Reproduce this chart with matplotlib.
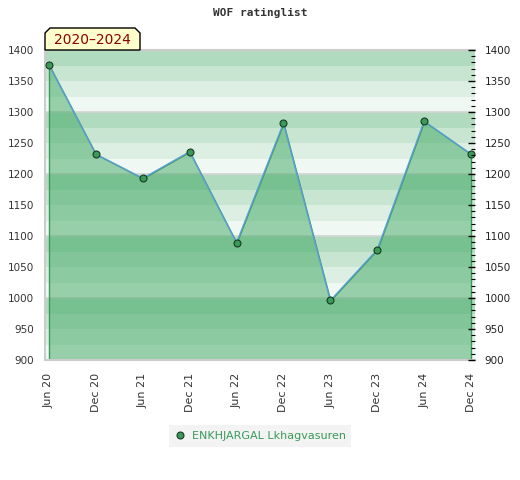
import matplotlib
matplotlib.use("Agg")
import matplotlib.pyplot as plt
from matplotlib.patches import Polygon
from matplotlib.ticker import MultipleLocator
from matplotlib.lines import Line2D

# data
periods = ['Jun 20', 'Dec 20', 'Jun 21', 'Dec 21', 'Jun 22',
           'Dec 22', 'Jun 23', 'Dec 23', 'Jun 24', 'Dec 24']
ratings = [1376, 1232, 1193, 1236, 1089, 1282, 996, 1078, 1285, 1232]
player = 'ENKHJARGAL Lkhagvasuren'
period_label = '2020\u20132024'
title = 'WOF ratinglist'

green = (62/255, 167/255, 97/255)
marker_green = '#3a9a5a'
line_blue = '#5b9fd6'
ymin, ymax = 900, 1400

W, H = 520, 480
fig = plt.figure(figsize=(W/100, H/100), dpi=100)
ax = fig.add_axes([45/W, 1 - 360/H, 430/W, 310/H])

x = list(range(len(ratings)))

# striped background, 4 bands per 100 points
band_alpha = [0.4, 0.29, 0.18, 0.08]
for base in range(ymin, ymax, 100):
    for i, a in enumerate(band_alpha):
        top = base + 100 - 25 * i
        ax.axhspan(top - 25, top, color=green, alpha=a, lw=0, zorder=0)
for y in range(ymin + 100, ymax + 1, 100):
    ax.axhline(y, color='#d4d4d4', lw=1.2, zorder=1)

# area under rating line
ax.fill_between(x, ratings, ymin, facecolor=(*green, 0.5),
                edgecolor=marker_green, lw=1, zorder=2)
ax.plot(x, ratings, color=line_blue, lw=1, zorder=3)
ax.plot(x, ratings, 'o', ms=5, mfc=marker_green, mec='#1a3a22', mew=0.8, zorder=4)

ax.set_xlim(-0.085, len(ratings) - 1 + 0.085)
ax.set_ylim(ymin, ymax)
ax.set_xticks(x)
ax.set_xticklabels(periods, rotation=90, fontsize=8, color='#333333')
ax.set_yticks(range(ymin, ymax + 1, 50))
ax.tick_params(axis='y', length=0, labelsize=7.5, labelcolor='#333333', pad=8)
ax.tick_params(axis='x', length=0, pad=9)
for s in ['left', 'bottom', 'top']:
    ax.spines[s].set_color('#cccccc')
    ax.spines[s].set_linewidth(1.5)
ax.spines['right'].set_visible(False)

ax2 = ax.twinx()
ax2.set_ylim(ymin, ymax)
ax2.yaxis.set_major_locator(MultipleLocator(50))
ax2.yaxis.set_minor_locator(MultipleLocator(10))
ax2.tick_params(axis='y', which='major', direction='in', length=5, width=1,
                color='black', labelsize=7.5, labelcolor='#222222', pad=7)
ax2.tick_params(axis='y', which='minor', direction='in', length=3, width=0.8,
                color='black')
for s in ax2.spines.values():
    s.set_visible(False)

fig.text(260/W, 1 - 13/H, title, ha='center', va='center',
         family='DejaVu Sans Mono', weight='bold', fontsize=8, color='#333333')

# period tag above the plot
bx0, bx1, by0, by1, c = 45, 140, 28, 50, 5
pts = [(bx0, by1), (bx0, by0 + c), (bx0 + c, by0), (bx1 - c, by0),
       (bx1, by0 + c), (bx1, by1)]
fig.patches.append(Polygon([(px / W, 1 - py / H) for px, py in pts], closed=True,
                           transform=fig.transFigure, facecolor='#ffffcc',
                           edgecolor='black', lw=1, zorder=5))
fig.text((bx0 + bx1) / 2 / W, 1 - 40 / H, period_label, ha='center', va='center',
         fontsize=10, color='#8b0000', zorder=6)

handle = Line2D([], [], ls='none', marker='o', ms=5, mfc=marker_green,
                mec='#1a3a22', mew=0.8)
leg = fig.legend([handle], [player], loc='center', bbox_to_anchor=(260/W, 1 - 436/H),
                 fontsize=8, frameon=True, fancybox=False, handlelength=1,
                 handletextpad=0.6, borderpad=0.5)
leg.get_frame().set_facecolor('#f0f0f0')
leg.get_frame().set_edgecolor('none')
for t in leg.get_texts():
    t.set_color(marker_green)

fig.savefig('out.png', dpi=100)
